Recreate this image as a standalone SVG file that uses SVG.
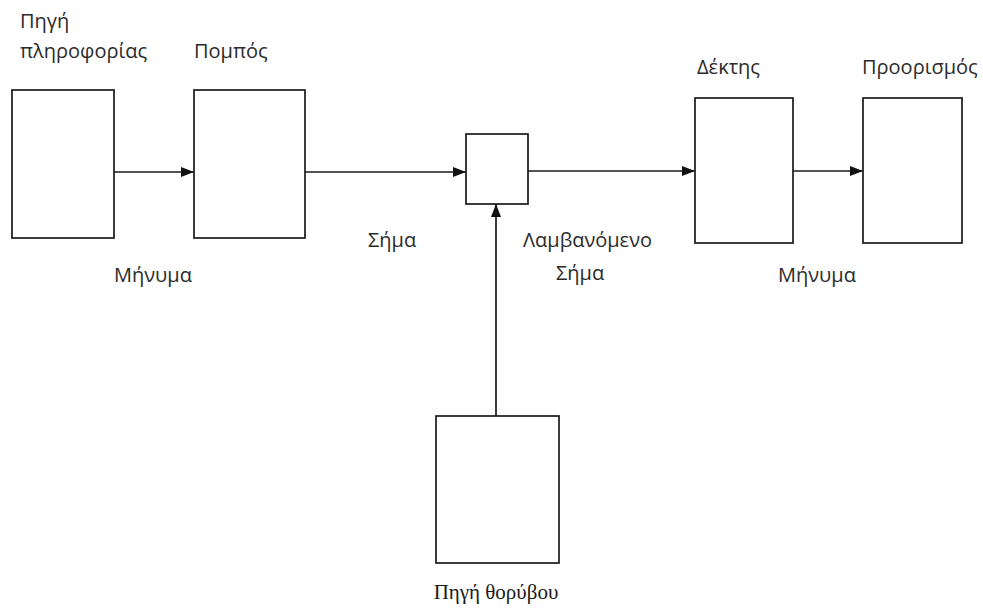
<svg xmlns="http://www.w3.org/2000/svg" width="983" height="610" viewBox="0 0 983 610">
  <style>
    .box { fill: #ffffff; stroke: #1a1a1a; stroke-width: 1.7; }
    .wire { fill: none; stroke: #1a1a1a; stroke-width: 1.7; }
    .lbl { font-family: "Open Sans", "Liberation Sans", sans-serif; font-size: 20px; fill: #2b2b2b; }
    .serif { font-family: "Liberation Serif", "DejaVu Serif", serif; font-size: 21px; fill: #1a1a1a; }
  </style>
  <defs>
    <marker id="arrow" viewBox="0 0 13 11" refX="13" refY="5.5" markerWidth="13" markerHeight="11" markerUnits="userSpaceOnUse" orient="auto">
      <path d="M0,0.5 L13,5.5 L0,10.5 Z" fill="#111111"/>
    </marker>
  </defs>
  <rect width="983" height="610" fill="#ffffff"/>

  <!-- connectors -->
  <g id="connectors">
    <line class="wire" x1="114" y1="172" x2="194" y2="172" marker-end="url(#arrow)"/>
    <line class="wire" x1="305" y1="172" x2="466" y2="172" stroke="#555555" marker-end="url(#arrow)"/>
    <line class="wire" x1="528" y1="171" x2="695" y2="171" marker-end="url(#arrow)"/>
    <line class="wire" x1="793" y1="171" x2="863" y2="171" marker-end="url(#arrow)"/>
    <line class="wire" x1="496" y1="416" x2="496" y2="204" marker-end="url(#arrow)"/>
  </g>

  <!-- information source -->
  <g id="source">
    <rect class="box" x="12" y="90" width="102" height="148"/>
    <text class="lbl" x="20" y="28">Πηγή</text>
    <text class="lbl" x="20" y="58">πληροφορίας</text>
  </g>

  <!-- transmitter -->
  <g id="transmitter">
    <rect class="box" x="194" y="90" width="111" height="148"/>
    <text class="lbl" x="194" y="58">Πομπός</text>
  </g>

  <!-- channel / mixing point -->
  <g id="channel">
    <rect class="box" x="466" y="134" width="62" height="70"/>
  </g>

  <!-- receiver -->
  <g id="receiver">
    <rect class="box" x="695" y="98" width="98" height="145"/>
    <text class="lbl" x="697" y="74">Δέκτης</text>
  </g>

  <!-- destination -->
  <g id="destination">
    <rect class="box" x="863" y="98" width="99" height="145"/>
    <text class="lbl" x="862" y="74">Προορισμός</text>
  </g>

  <!-- noise source -->
  <g id="noise">
    <rect class="box" x="436" y="416" width="123" height="147"/>
    <text class="serif" x="496" y="599" text-anchor="middle">Πηγή θορύβου</text>
  </g>

  <!-- signal labels -->
  <g id="labels">
    <text class="lbl" x="114" y="282">Μήνυμα</text>
    <text class="lbl" x="368" y="247">Σήμα</text>
    <text class="lbl" x="523" y="247">Λαμβανόμενο</text>
    <text class="lbl" x="556" y="280">Σήμα</text>
    <text class="lbl" x="778" y="282">Μήνυμα</text>
  </g>
</svg>
